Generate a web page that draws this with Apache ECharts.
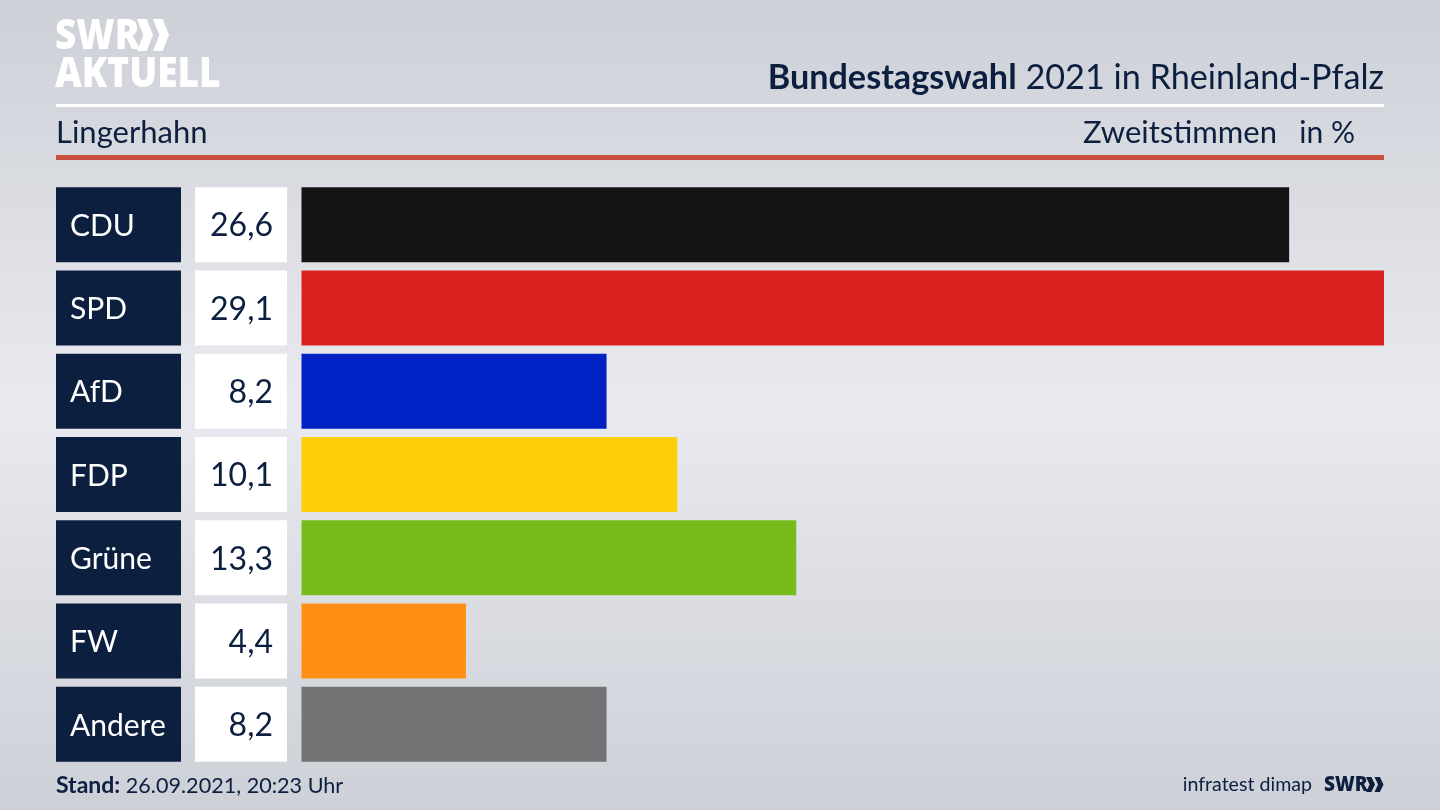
<!DOCTYPE html>
<html>
<head>
<meta charset="utf-8">
<title>Bundestagswahl 2021 Lingerhahn</title>
<style>
  html, body { margin: 0; padding: 0; background: #dfe1e6; }
  #chart { width: 1440px; height: 810px; }
</style>
<script src="https://cdn.jsdelivr.net/npm/echarts@6/dist/echarts.min.js"></script>
</head>
<body>
<div id="chart"></div>
<script>
const parties = ["CDU", "SPD", "AfD", "FDP", "Grüne", "FW", "Andere"];
const shareLabels = ["26,6", "29,1", "8,2", "10,1", "13,3", "4,4", "8,2"];
// bar lengths, the printed labels are rounded
const shares = [26.55, 29.1, 8.2, 10.1, 13.3, 4.42, 8.2];
const partyColors = ["#141414", "#d9201f", "#0021c4", "#ffcd0a", "#78bc1b", "#ff8f14", "#727375"];

const NAVY = "#0c1f3f";
const FONT = "Lato, 'Noto Sans', sans-serif";

function headerText(x, y, text, size, align) {
  return {
    type: "text",
    x: x,
    y: y,
    silent: true,
    style: {
      text: text,
      fill: NAVY,
      font: size + "px " + FONT,
      textAlign: align || "left",
      textVerticalAlign: "middle"
    }
  };
}

function logoText(x, y, text, size, stretch, color) {
  return {
    type: "text",
    x: x,
    y: y,
    scaleY: stretch,
    silent: true,
    style: {
      text: text,
      fill: color,
      font: "900 " + size + "px 'Open Sans', sans-serif",
      textAlign: "left",
      textVerticalAlign: "middle"
    }
  };
}

// double chevron of the SWR logo
function chevrons(x, y, h, w, step, color) {
  const one = (x0) => ({
    type: "polygon",
    silent: true,
    shape: {
      points: [
        [x0, y], [x0 + w * 0.6, y], [x0 + w, y + h / 2],
        [x0 + w * 0.6, y + h], [x0, y + h], [x0 + w * 0.4, y + h / 2]
      ]
    },
    style: { fill: color }
  });
  return [one(x), one(x + step)];
}

const chart = echarts.init(document.getElementById("chart"));

chart.setOption({
  animation: false,
  backgroundColor: {
    type: "linear", x: 0, y: 0, x2: 0, y2: 1,
    colorStops: [
      { offset: 0, color: "#cdd0d7" },
      { offset: 0.5, color: "#e9eaef" },
      { offset: 1, color: "#cdd0d7" }
    ]
  },
  grid: { left: 301.5, right: 56, top: 183, height: 583 },
  xAxis: { type: "value", min: 0, max: 29.1, show: false },
  yAxis: {
    type: "category",
    inverse: true,
    data: parties,
    axisLine: { show: false },
    axisTick: { show: false },
    axisLabel: {
      margin: 14.5,
      formatter: function (name, i) {
        return "{name|" + name + "}{gap|}{value|" + shareLabels[i] + "}";
      },
      rich: {
        name: {
          width: 111, height: 72, lineHeight: 72, padding: [3, 0, 0, 14],
          backgroundColor: NAVY, color: "#fff", fontSize: 30, fontFamily: FONT, align: "left"
        },
        gap: { width: 14, height: 75 },
        value: {
          width: 78, height: 72, lineHeight: 72, padding: [3, 14, 0, 0],
          backgroundColor: "#fff", color: NAVY, fontSize: 32, fontFamily: FONT, align: "right"
        }
      }
    }
  },
  series: [{
    type: "bar",
    barWidth: 75,
    silent: true,
    data: shares.map((v, i) => ({ value: v, itemStyle: { color: partyColors[i] } }))
  }],
  graphic: [
    { type: "rect", silent: true, shape: { x: 56, y: 104, width: 1328, height: 3 }, style: { fill: "#ffffff" } },
    { type: "rect", silent: true, shape: { x: 56, y: 155, width: 1328, height: 5 }, style: { fill: "#c8503f" } },
    logoText(55, 37, "SWR", 37, 1.17, "#ffffff"),
    logoText(55, 75, "AKTUELL", 37, 1.17, "#ffffff"),
    ...chevrons(137, 19, 32, 16, 16, "#ffffff"),
    {
      type: "text", silent: true, x: 1384, y: 78,
      style: {
        text: "{b|Bundestagswahl} 2021 in Rheinland-Pfalz",
        fill: NAVY,
        font: "34.2px " + FONT,
        textAlign: "right",
        textVerticalAlign: "middle",
        rich: { b: { fontWeight: "bold", fontSize: 34.2, fontFamily: FONT, fill: NAVY } }
      }
    },
    headerText(56, 133, "Lingerhahn", 31),
    headerText(1277, 133, "Zweitstimmen", 31, "right"),
    headerText(1355, 133, "in %", 30, "right"),
    {
      type: "text", silent: true, x: 56, y: 786,
      style: {
        text: "{b|Stand:} 26.09.2021, 20:23 Uhr",
        fill: NAVY,
        font: "21.6px " + FONT,
        textVerticalAlign: "middle",
        rich: { b: { fontWeight: "bold", fontSize: 23, fontFamily: FONT, fill: NAVY } }
      }
    },
    headerText(1312, 785, "infratest dimap", 19.6, "right"),
    logoText(1324, 785, "SWR", 19, 1.1, NAVY),
    ...chevrons(1366, 777, 15, 9, 8.5, NAVY)
  ]
});
</script>
</body>
</html>
